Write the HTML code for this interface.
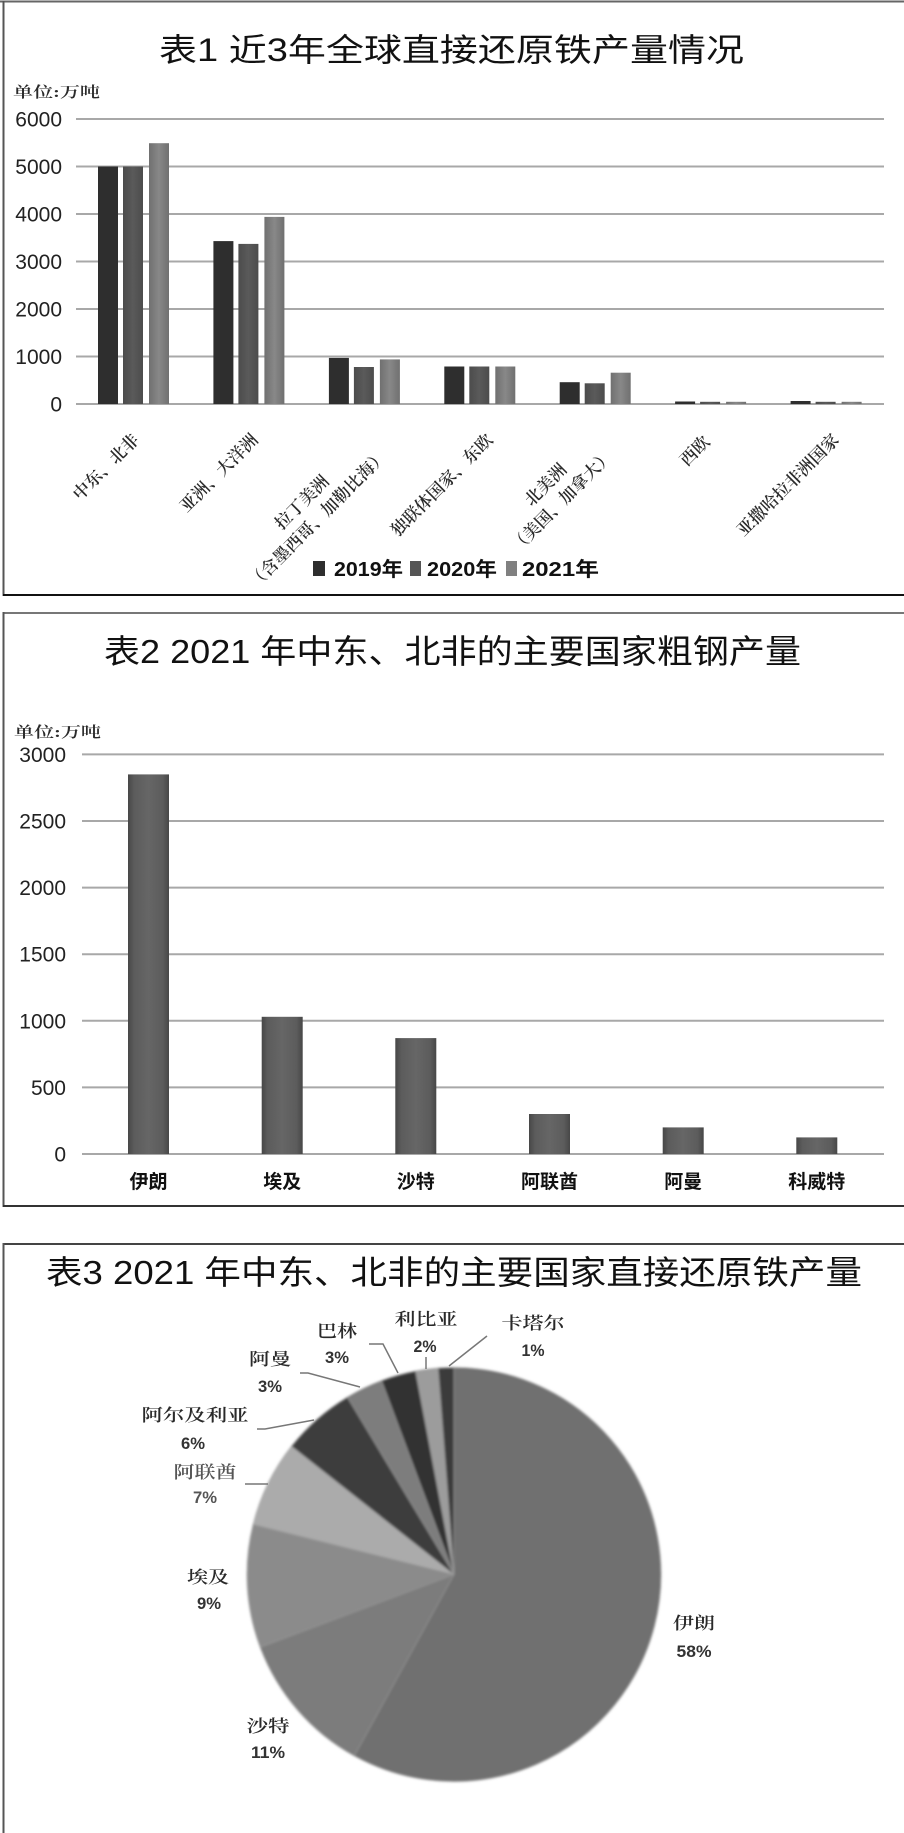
<!DOCTYPE html>
<html>
<head>
<meta charset="utf-8">
<style>
  html, body { margin: 0; padding: 0; background: #ffffff; }
  svg { display: block; }
  .t { font-family: "Liberation Sans", "Noto Sans CJK SC", sans-serif; fill: #111; }
  .ax { font-family: "Liberation Sans", "Noto Sans CJK SC", sans-serif; fill: #222; font-size: 21px; }
  .kai { font-family: "Liberation Serif", "Noto Serif CJK SC", serif; fill: #2a2a2a; font-weight: 600; }
  .pct { font-family: "Liberation Sans", "Noto Sans CJK SC", sans-serif; font-weight: bold; fill: #333; }
</style>
</head>
<body>
<svg width="904" height="1833" viewBox="0 0 904 1833" xmlns="http://www.w3.org/2000/svg">
  <defs>
    <linearGradient id="g21" x1="0" x2="1" y1="0" y2="0">
      <stop offset="0" stop-color="#707070"/>
      <stop offset="0.5" stop-color="#888888"/>
      <stop offset="1" stop-color="#707070"/>
    </linearGradient>
    <linearGradient id="g20" x1="0" x2="1" y1="0" y2="0">
      <stop offset="0" stop-color="#4c4c4c"/>
      <stop offset="0.5" stop-color="#5a5a5a"/>
      <stop offset="1" stop-color="#4c4c4c"/>
    </linearGradient>
    <linearGradient id="gb2" x1="0" x2="1" y1="0" y2="0">
      <stop offset="0" stop-color="#474747"/>
      <stop offset="0.15" stop-color="#5c5c5c"/>
      <stop offset="0.5" stop-color="#666666"/>
      <stop offset="0.85" stop-color="#5c5c5c"/>
      <stop offset="1" stop-color="#474747"/>
    </linearGradient>
    <filter id="soft" x="-5%" y="-5%" width="110%" height="110%">
      <feGaussianBlur stdDeviation="1.2"/>
    </filter>
  </defs>

  <!-- ================= PANEL 1 ================= -->
  <line x1="0" y1="1.5" x2="904" y2="1.5" stroke="#666" stroke-width="2"/>
  <line x1="3.5" y1="1" x2="3.5" y2="596" stroke="#555" stroke-width="2"/>
  <line x1="3" y1="595" x2="904" y2="595" stroke="#111" stroke-width="2"/>

  <text class="t" x="159" y="61" font-size="32" textLength="585" lengthAdjust="spacingAndGlyphs">表1 近3年全球直接还原铁产量情况</text>
  <text class="kai" x="13" y="97" font-size="15" textLength="87" lengthAdjust="spacingAndGlyphs">单位:万吨</text>

  <!-- gridlines -->
  <g stroke="#a8a8a8" stroke-width="2">
    <line x1="76" y1="119" x2="884" y2="119"/>
    <line x1="76" y1="166.5" x2="884" y2="166.5"/>
    <line x1="76" y1="214" x2="884" y2="214"/>
    <line x1="76" y1="261.5" x2="884" y2="261.5"/>
    <line x1="76" y1="309" x2="884" y2="309"/>
    <line x1="76" y1="356.5" x2="884" y2="356.5"/>
    <line x1="76" y1="404" x2="884" y2="404"/>
  </g>
  <g class="ax" text-anchor="end">
    <text x="62" y="126.5">6000</text>
    <text x="62" y="174">5000</text>
    <text x="62" y="221.5">4000</text>
    <text x="62" y="269">3000</text>
    <text x="62" y="316.5">2000</text>
    <text x="62" y="364">1000</text>
    <text x="62" y="411.5">0</text>
  </g>

  <!-- bars: 2019 -->
  <g fill="#2e2e2e">
    <rect x="98" y="166.5" width="20" height="237.5"/>
    <rect x="213.4" y="241.1" width="20" height="162.9"/>
    <rect x="328.9" y="357.9" width="20" height="46.1"/>
    <rect x="444.3" y="366.5" width="20" height="37.5"/>
    <rect x="559.7" y="382.2" width="20" height="21.8"/>
    <rect x="675.1" y="401.5" width="20" height="2.5"/>
    <rect x="790.6" y="401" width="20" height="3"/>
  </g>
  <!-- bars: 2020 -->
  <g fill="url(#g20)">
    <rect x="123" y="166.5" width="20" height="237.5"/>
    <rect x="238.4" y="243.9" width="20" height="160.1"/>
    <rect x="353.9" y="367" width="20" height="37"/>
    <rect x="469.3" y="366.5" width="20" height="37.5"/>
    <rect x="584.7" y="383.3" width="20" height="20.7"/>
    <rect x="700.1" y="401.8" width="20" height="2.2"/>
    <rect x="815.6" y="401.8" width="20" height="2.2"/>
  </g>
  <!-- bars: 2021 -->
  <g fill="url(#g21)">
    <rect x="149" y="143.2" width="20" height="260.8"/>
    <rect x="264.4" y="216.9" width="20" height="187.1"/>
    <rect x="379.9" y="359.4" width="20" height="44.6"/>
    <rect x="495.3" y="366.5" width="20" height="37.5"/>
    <rect x="610.7" y="372.7" width="20" height="31.3"/>
    <rect x="726.1" y="401.8" width="20" height="2.2"/>
    <rect x="841.6" y="401.8" width="20" height="2.2"/>
  </g>

  <!-- rotated category labels -->
  <g class="kai" font-size="17">
    <text transform="translate(140,441) rotate(-45)" text-anchor="end">中东、北非</text>
    <text transform="translate(259,441) rotate(-45)" text-anchor="end">亚洲、大洋洲</text>
    <g transform="translate(388,457) rotate(-45)">
      <text x="0" y="0" text-anchor="end">（含墨西哥、加勒比海）</text>
      <text x="-93" y="-23" text-anchor="middle">拉丁美洲</text>
    </g>
    <text transform="translate(494,441) rotate(-45)" text-anchor="end">独联体国家、东欧</text>
    <g transform="translate(614,457) rotate(-45)">
      <text x="0" y="0" text-anchor="end">（美国、加拿大）</text>
      <text x="-68" y="-23" text-anchor="middle">北美洲</text>
    </g>
    <text transform="translate(711,443) rotate(-45)" text-anchor="end">西欧</text>
    <text transform="translate(840,441) rotate(-45)" text-anchor="end">亚撒哈拉非洲国家</text>
  </g>

  <!-- legend -->
  <rect x="313" y="561" width="12" height="15" fill="#2e2e2e"/>
  <text class="t" x="334" y="576" font-size="20" font-weight="bold" textLength="69" lengthAdjust="spacingAndGlyphs">2019年</text>
  <rect x="410" y="561" width="11" height="15" fill="#555"/>
  <text class="t" x="427" y="576" font-size="20" font-weight="bold" textLength="70" lengthAdjust="spacingAndGlyphs">2020年</text>
  <rect x="506" y="561" width="11" height="15" fill="#808080"/>
  <text class="t" x="522" y="576" font-size="20" font-weight="bold" textLength="77" lengthAdjust="spacingAndGlyphs">2021年</text>

  <!-- ================= PANEL 2 ================= -->
  <line x1="3" y1="613" x2="904" y2="613" stroke="#777" stroke-width="2"/>
  <line x1="3.5" y1="612" x2="3.5" y2="1207" stroke="#555" stroke-width="2"/>
  <line x1="3" y1="1206" x2="904" y2="1206" stroke="#333" stroke-width="2"/>

  <text class="t" x="104" y="663" font-size="33" textLength="697" lengthAdjust="spacingAndGlyphs">表2 2021 年中东、北非的主要国家粗钢产量</text>
  <text class="kai" x="14" y="737" font-size="15" textLength="87" lengthAdjust="spacingAndGlyphs">单位:万吨</text>

  <g stroke="#a8a8a8" stroke-width="2">
    <line x1="82" y1="754.4" x2="884" y2="754.4"/>
    <line x1="82" y1="821" x2="884" y2="821"/>
    <line x1="82" y1="887.6" x2="884" y2="887.6"/>
    <line x1="82" y1="954.2" x2="884" y2="954.2"/>
    <line x1="82" y1="1020.8" x2="884" y2="1020.8"/>
    <line x1="82" y1="1087.4" x2="884" y2="1087.4"/>
    <line x1="82" y1="1154" x2="884" y2="1154"/>
  </g>
  <g class="ax" text-anchor="end">
    <text x="66" y="761.9">3000</text>
    <text x="66" y="828.5">2500</text>
    <text x="66" y="895.1">2000</text>
    <text x="66" y="961.7">1500</text>
    <text x="66" y="1028.3">1000</text>
    <text x="66" y="1094.9">500</text>
    <text x="66" y="1161.5">0</text>
  </g>
  <g fill="url(#gb2)">
    <rect x="128" y="774.4" width="41" height="379.6"/>
    <rect x="261.7" y="1016.8" width="41" height="137.2"/>
    <rect x="395.3" y="1038.1" width="41" height="115.9"/>
    <rect x="529" y="1114" width="41" height="40"/>
    <rect x="662.7" y="1127.4" width="41" height="26.6"/>
    <rect x="796.3" y="1137.4" width="41" height="16.6"/>
  </g>
  <g class="t" font-size="19" font-weight="bold" text-anchor="middle" fill="#222">
    <text x="148.5" y="1188">伊朗</text>
    <text x="282.2" y="1188">埃及</text>
    <text x="415.8" y="1188">沙特</text>
    <text x="549.5" y="1188">阿联酋</text>
    <text x="683.2" y="1188">阿曼</text>
    <text x="816.8" y="1188">科威特</text>
  </g>

  <!-- ================= PANEL 3 ================= -->
  <line x1="3" y1="1244" x2="904" y2="1244" stroke="#444" stroke-width="2"/>
  <line x1="3.5" y1="1243" x2="3.5" y2="1833" stroke="#555" stroke-width="2"/>

  <text class="t" x="46" y="1284" font-size="33" textLength="816" lengthAdjust="spacingAndGlyphs">表3 2021 年中东、北非的主要国家直接还原铁产量</text>

  <!-- pie -->
  <g filter="url(#soft)" stroke="#9a9a9a" stroke-width="0.6">
    <path d="M454,1574.5 L454,1367.5 A207,207 0 1 1 354.3,1755.9 Z" fill="#6f6f6f"/>
    <path d="M454,1574.5 L354.3,1755.9 A207,207 0 0 1 260.2,1647.3 Z" fill="#7b7b7b"/>
    <path d="M454,1574.5 L260.2,1647.3 A207,207 0 0 1 253.1,1524.4 Z" fill="#8b8b8b"/>
    <path d="M454,1574.5 L253.1,1524.4 A207,207 0 0 1 291.5,1446.2 Z" fill="#ababab"/>
    <path d="M454,1574.5 L291.5,1446.2 A207,207 0 0 1 347.4,1397.1 Z" fill="#3d3d3d"/>
    <path d="M454,1574.5 L347.4,1397.1 A207,207 0 0 1 381.5,1380.6 Z" fill="#7d7d7d"/>
    <path d="M454,1574.5 L381.5,1380.6 A207,207 0 0 1 415.6,1371.1 Z" fill="#333333"/>
    <path d="M454,1574.5 L415.6,1371.1 A207,207 0 0 1 438.1,1368.1 Z" fill="#9c9c9c"/>
    <path d="M454,1574.5 L438.1,1368.1 A207,207 0 0 1 454,1367.5 Z" fill="#3a3a3a"/>
  </g>

  <!-- leader lines -->
  <g stroke="#777" stroke-width="1.5" fill="none">
    <polyline points="487,1336 449,1366"/>
    <polyline points="426,1357 426,1369"/>
    <polyline points="369,1344 383,1344 398,1373"/>
    <polyline points="300,1373 308,1373 360,1387"/>
    <polyline points="257,1429 265,1429 314,1420"/>
    <polyline points="245,1484 268,1484"/>
  </g>

  <!-- pie labels -->
  <g class="kai" font-size="17" text-anchor="middle">
    <text x="533" y="1329" textLength="63" lengthAdjust="spacingAndGlyphs">卡塔尔</text>
    <text x="426" y="1325" textLength="63" lengthAdjust="spacingAndGlyphs">利比亚</text>
    <text x="337" y="1337" textLength="40" lengthAdjust="spacingAndGlyphs">巴林</text>
    <text x="270" y="1365" textLength="42" lengthAdjust="spacingAndGlyphs">阿曼</text>
    <text x="195" y="1421" textLength="107" lengthAdjust="spacingAndGlyphs">阿尔及利亚</text>
    <text x="205" y="1478" textLength="63" lengthAdjust="spacingAndGlyphs" fill="#555">阿联酋</text>
    <text x="208" y="1583" textLength="42" lengthAdjust="spacingAndGlyphs">埃及</text>
    <text x="268" y="1732" textLength="43" lengthAdjust="spacingAndGlyphs">沙特</text>
    <text x="694" y="1629" textLength="42" lengthAdjust="spacingAndGlyphs">伊朗</text>
  </g>
  <g class="pct" font-size="17" text-anchor="middle">
    <text x="533" y="1356" textLength="23" lengthAdjust="spacingAndGlyphs">1%</text>
    <text x="425" y="1352" textLength="23" lengthAdjust="spacingAndGlyphs">2%</text>
    <text x="337" y="1363" textLength="24" lengthAdjust="spacingAndGlyphs">3%</text>
    <text x="270" y="1392" textLength="24" lengthAdjust="spacingAndGlyphs">3%</text>
    <text x="193" y="1449" textLength="24" lengthAdjust="spacingAndGlyphs">6%</text>
    <text x="205" y="1503" textLength="24" lengthAdjust="spacingAndGlyphs" fill="#555">7%</text>
    <text x="209" y="1609" textLength="24" lengthAdjust="spacingAndGlyphs">9%</text>
    <text x="268" y="1758" textLength="34" lengthAdjust="spacingAndGlyphs">11%</text>
    <text x="694" y="1657" textLength="35" lengthAdjust="spacingAndGlyphs">58%</text>
  </g>
</svg>
</body>
</html>
